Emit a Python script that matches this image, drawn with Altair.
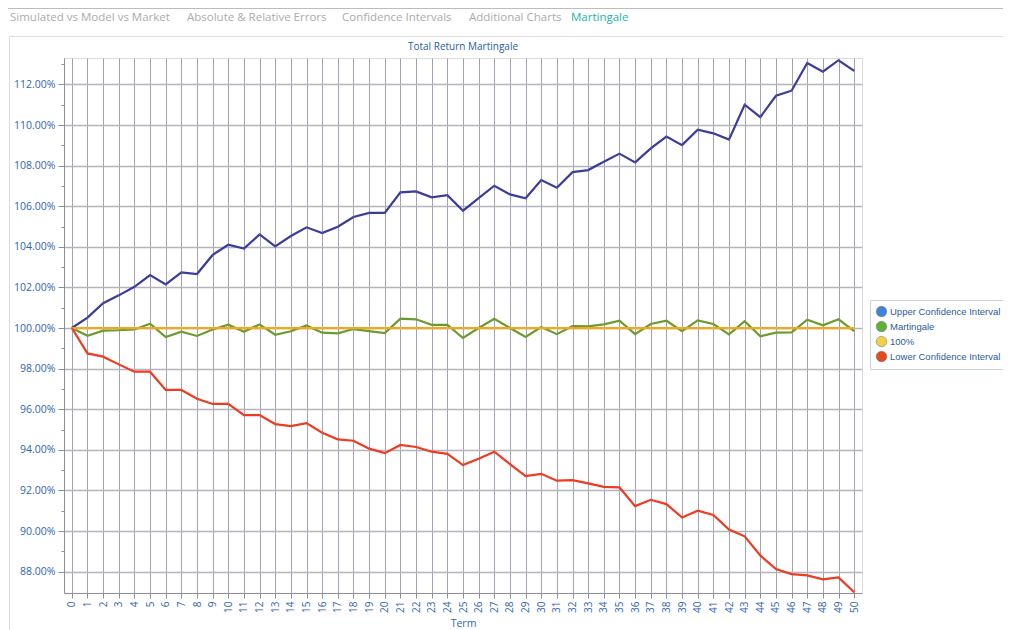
import altair as alt
import pandas as pd

# ---------------- data ----------------
terms = list(range(51))
upper = [100.00, 100.51, 101.22, 101.61, 102.03, 102.61, 102.15, 102.74, 102.66, 103.60,
         104.10, 103.91, 104.61, 104.02, 104.53, 104.96, 104.68, 104.99, 105.47, 105.67,
         105.67, 106.68, 106.73, 106.44, 106.54, 105.78, 106.40, 107.01, 106.58, 106.39,
         107.29, 106.91, 107.68, 107.78, 108.19, 108.59, 108.16, 108.85, 109.43, 109.01,
         109.77, 109.59, 109.28, 111.00, 110.39, 111.44, 111.69, 113.05, 112.63, 113.19, 112.67]
martingale = [100.00, 99.62, 99.87, 99.89, 99.93, 100.21, 99.56, 99.82, 99.61, 99.93,
              100.16, 99.82, 100.18, 99.67, 99.84, 100.13, 99.77, 99.74, 99.95, 99.85,
              99.75, 100.46, 100.43, 100.16, 100.16, 99.51, 100.00, 100.46, 100.00, 99.56,
              100.05, 99.70, 100.10, 100.08, 100.18, 100.36, 99.70, 100.20, 100.36, 99.85,
              100.38, 100.20, 99.69, 100.34, 99.59, 99.77, 99.79, 100.41, 100.13, 100.43, 99.85]
hundred = [100.0, 100.0, 100.0, 100.0, 100.0, 100.0, 100.0, 100.0, 100.0, 100.0,
           100.0, 100.0, 100.0, 100.0, 100.0, 100.0, 100.0, 100.0, 100.0, 100.0,
           100.0, 100.0, 100.0, 100.0, 100.0, 100.0, 100.0, 100.0, 100.0, 100.0,
           100.0, 100.0, 100.0, 100.0, 100.0, 100.0, 100.0, 100.0, 100.0, 100.0,
           100.0, 100.0, 100.0, 100.0, 100.0, 100.0, 100.0, 100.0, 100.0, 100.0, 100.0]
lower = [100.00, 98.75, 98.59, 98.21, 97.85, 97.85, 96.95, 96.95, 96.52, 96.26,
         96.26, 95.71, 95.71, 95.27, 95.17, 95.32, 94.84, 94.52, 94.45, 94.06,
         93.84, 94.24, 94.14, 93.91, 93.80, 93.25, 93.56, 93.91, 93.30, 92.71,
         92.82, 92.48, 92.51, 92.35, 92.18, 92.15, 91.23, 91.54, 91.33, 90.67,
         91.00, 90.79, 90.08, 89.74, 88.80, 88.13, 87.88, 87.82, 87.62, 87.72, 86.99]

series_names = ["Upper Confidence Interval", "Martingale", "100%", "Lower Confidence Interval"]
y_tick_values = [88, 89, 90, 91, 92, 93, 94, 95, 96, 97, 98, 99, 100,
                 101, 102, 103, 104, 105, 106, 107, 108, 109, 110, 111, 112, 113]
tabs = ["Simulated vs Model vs Market", "Absolute & Relative Errors",
        "Confidence Intervals", "Additional Charts", "Martingale"]
chart_title = "Total Return Martingale"

# ---------------- styling / layout ----------------
line_colors = ["#3b3b98", "#6b9b2f", "#f2a81d", "#ee3b22"]
ball_colors = ["#3d83d6", "#5db33a", "#f3cf4a", "#e44a1f"]
tab_x = [-54, 123, 278, 405, 507]
tab_colors = ["#ababab", "#ababab", "#ababab", "#ababab", "#22b3a7"]
W, H = 798, 535
PAD = {"left": 56, "top": 50, "right": 141, "bottom": 37}
FONT = "Open Sans"
BLUE = "#2f66ad"

rows = []
for name, vals in zip(series_names, [upper, martingale, hundred, lower]):
    for t, v in zip(terms, vals):
        rows.append({"series": name, "legend": name, "term": t, "value": v})
df = pd.DataFrame(rows)

x_enc = alt.X(
    "term:O",
    scale=alt.Scale(type="point", padding=0.5),
    axis=alt.Axis(
        title="Term", labelAngle=270, labelAlign="right", labelBaseline="middle",
        labelFontSize=10, labelColor=BLUE, labelFont=FONT, labelPadding=3,
        tickSize=5, tickColor="#8e8e9a", domainColor="#8e8e9a",
        grid=True, gridColor="#a2a2b0", gridWidth=1,
        titleFont=FONT, titleFontSize=10.5, titleFontWeight="normal",
        titleColor=BLUE, titlePadding=6,
    ),
)
y_enc = alt.Y(
    "value:Q",
    scale=alt.Scale(domain=[86.95, 113.3], nice=False, zero=False),
    axis=alt.Axis(
        title=None, values=y_tick_values,
        labelExpr="datum.value % 2 === 0 ? format(datum.value, '.2f') + '%' : ''",
        labelFontSize=10.5, labelColor=BLUE, labelFont=FONT, labelPadding=3,
        tickSize=alt.condition("datum.value % 2 === 0", alt.value(6), alt.value(3)),
        tickColor="#8e8e9a", domainColor="#8e8e9a",
        grid=True, gridColor="#b4b4bd", gridWidth=1.6,
        gridOpacity=alt.condition("datum.value % 2 === 0", alt.value(1), alt.value(0)),
    ),
)

lines = alt.Chart(df).mark_line(strokeWidth=2.2).encode(
    x=x_enc,
    y=y_enc,
    stroke=alt.Stroke("series:N",
                      scale=alt.Scale(domain=series_names, range=line_colors),
                      legend=None),
    detail="series:N",
)

legend_pts = alt.Chart(df).mark_point(filled=True, size=1, opacity=1).encode(
    x=x_enc,
    y=y_enc,
    fill=alt.Fill(
        "legend:N",
        scale=alt.Scale(domain=series_names, range=ball_colors),
        legend=alt.Legend(
            title=None, orient="none", legendX=806, legendY=242,
            symbolType="circle", symbolSize=110, symbolStrokeColor="#6a6a6a",
            symbolStrokeWidth=0.5, labelFont="Liberation Sans", labelFontSize=9.5,
            labelColor="#2a5c9e", labelLimit=300, rowPadding=2, labelOffset=3,
            fillColor="white", strokeColor="#c9d3e0", padding=6,
        ),
    ),
)

one = pd.DataFrame({"k": [0]})
top_border = alt.Chart(one).mark_rule(color="#bcbcbc", strokeWidth=1).encode(
    x=alt.value(-PAD["left"]), x2=alt.value(W + PAD["right"]),
    y=alt.value(-PAD["top"] + 0.5),
)
panel = alt.Chart(one).mark_rect(fillOpacity=0, stroke="#dedede", strokeWidth=1).encode(
    x=alt.value(-54.5), x2=alt.value(W + PAD["right"] + 20),
    y=alt.value(-21.5), y2=alt.value(H + 60),
)
tab_layers = [
    alt.Chart(one).mark_text(align="left", baseline="middle", font=FONT,
                             fontSize=11.5, color=c).encode(
        x=alt.value(x), y=alt.value(-40), text=alt.value(t))
    for t, x, c in zip(tabs, tab_x, tab_colors)
]
title_layer = alt.Chart(one).mark_text(align="center", baseline="middle", font=FONT,
                                       fontSize=10, color="#2a5d9f").encode(
    x=alt.value(W / 2), y=alt.value(-11), text=alt.value(chart_title))

chart = alt.layer(top_border, panel, *tab_layers, title_layer, lines, legend_pts).properties(
    width=W, height=H,
    padding=PAD,
    autosize=alt.AutoSizeParams(type="none"),
).resolve_legend(fill="independent", stroke="independent"
).configure_view(stroke="#9a9aa8", strokeWidth=1).configure(background="white")

chart.save("out.html", embed_options={"renderer": "svg", "actions": False})
